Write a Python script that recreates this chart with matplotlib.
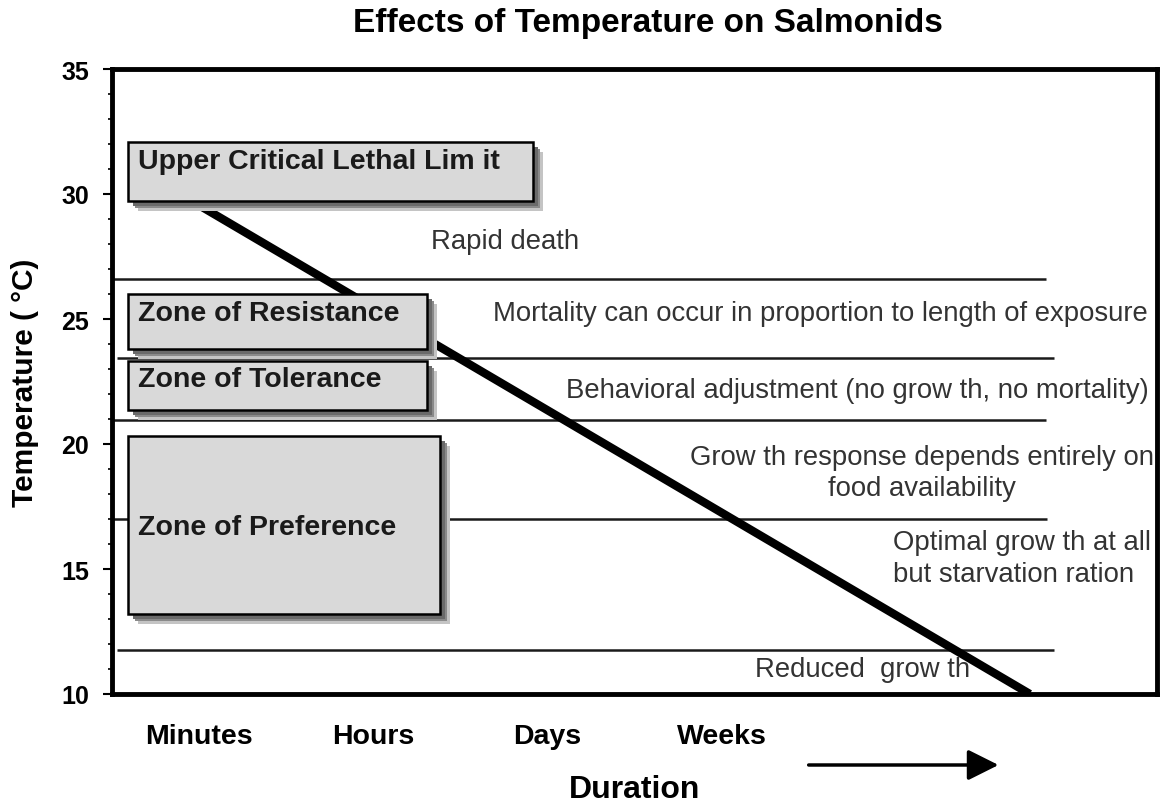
import matplotlib
matplotlib.use("Agg")
import matplotlib.pyplot as plt
from matplotlib.patches import Rectangle
from matplotlib.transforms import ScaledTranslation
from matplotlib.ticker import MultipleLocator

plt.rcParams['font.family'] = ['Liberation Sans', 'DejaVu Sans']

# ---------------- data ----------------
duration_labels = ["Minutes", "Hours", "Days", "Weeks"]
duration_pos = [0.5, 1.5, 2.5, 3.5]

# thermal threshold lines (°C) and their x-extent on the duration scale
threshold_temps = [26.6, 23.45, 20.95, 17.0, 11.75]
threshold_x0 = [0.0, 0.03, 0.0, 0.0, 0.03]
threshold_x1 = [5.36, 5.41, 5.36, 5.37, 5.41]

# lethal-limit line: (duration, temperature) endpoints
lethal_x = [0.50, 5.27]
lethal_y = [29.55, 10.0]

# zone boxes
zone_names = ["Upper Critical Lethal Lim it", "Zone of Resistance",
              "Zone of Tolerance", "Zone of Preference"]
zone_x0 = [0.09, 0.09, 0.09, 0.09]
zone_x1 = [2.42, 1.81, 1.81, 1.885]
zone_ylo = [29.72, 23.80, 21.36, 13.20]
zone_yhi = [32.08, 26.00, 23.32, 20.32]
zone_label_y = [31.32, 25.24, 22.60, 16.68]

# response annotations
resp_text = ["Rapid death",
             "Mortality can occur in proportion to length of exposure",
             "Behavioral adjustment (no grow th, no mortality)",
             "Grow th response depends entirely on\nfood availability",
             "Optimal grow th at all\nbut starvation ration",
             "Reduced  grow th"]
resp_x = [2.256, 2.188, 2.607, 4.651, 4.484, 3.692]
resp_y = [28.12, 25.24, 22.16, 18.86, 15.44, 11.00]
resp_ha = ["center", "left", "left", "center", "left", "left"]

arrow_x = [4.0, 5.09]

# ---------------- figure ----------------
W, H = 1161, 803
fig = plt.figure(figsize=(W / 100, H / 100), dpi=100)
L, R, T, B = 112, 1157, 70, 695
ax = fig.add_axes([L / W, 1 - B / H, (R - L) / W, (B - T) / H])
ax.set_xlim(0, 6)
ax.set_ylim(10, 35)

for s in ax.spines.values():
    s.set_linewidth(3.5)
    s.set_color('black')

# threshold lines
for t, x0, x1 in zip(threshold_temps, threshold_x0, threshold_x1):
    ax.plot([x0, x1], [t, t], color='#1a1a1a', lw=1.8, zorder=1,
            solid_capstyle='butt')

# lethal line
ax.plot(lethal_x, lethal_y, color='black', lw=6, zorder=2,
        solid_capstyle='butt', clip_on=True)

# zone boxes with shadows
for name, x0, x1, ylo, yhi, ly in zip(zone_names, zone_x0, zone_x1,
                                      zone_ylo, zone_yhi, zone_label_y):
    for off, col in [(10, '#c4c4c4'), (7, '#8a8a8a'), (5, '#6a6a6a')]:
        tr = ax.transData + ScaledTranslation(off / 100, -off / 100,
                                              fig.dpi_scale_trans)
        ax.add_patch(Rectangle((x0, ylo), x1 - x0, yhi - ylo, transform=tr,
                               facecolor=col, edgecolor='none', zorder=3))
    ax.add_patch(Rectangle((x0, ylo), x1 - x0, yhi - ylo,
                           facecolor='#d9d9d9', edgecolor='black',
                           lw=1.8, zorder=4))
    ax.text(0.149, ly, name, fontsize=20.5, fontweight='bold',
            color='#1a1a1a', ha='left', va='center', zorder=5)

# annotations
for txt, x, y, ha in zip(resp_text, resp_x, resp_y, resp_ha):
    ax.text(x, y, txt, fontsize=19.8, color='#333333', ha=ha, va='center',
            multialignment=ha, linespacing=1.25, zorder=5, clip_on=False)

# axes ticks
ax.yaxis.set_major_locator(MultipleLocator(5))
ax.yaxis.set_minor_locator(MultipleLocator(1))
ax.tick_params(axis='y', which='major', direction='out', length=6.5,
               width=1.5, labelsize=18, pad=10)
ax.tick_params(axis='y', which='minor', direction='out', length=3,
               width=1.2)
for lab in ax.get_yticklabels():
    lab.set_fontweight('bold')
ax.set_xticks(duration_pos)
ax.set_xticklabels(duration_labels, fontsize=20.5, fontweight='bold')
ax.tick_params(axis='x', length=0, pad=21)

ax.set_ylabel("Temperature ( °C)", fontsize=21.5, fontweight='bold',
              va='center')
ax.yaxis.set_label_coords(-0.083, 0.5)
ax.set_xlabel("Duration", fontsize=23, fontweight='bold')
ax.xaxis.label.set_va('center')
ax.xaxis.set_label_coords(0.5, -0.152)

ax.set_title("Effects of Temperature on Salmonids", fontsize=24,
             fontweight='bold', x=0.513, y=1.074, va='center', pad=0)

# duration arrow
ax.annotate('', xy=(arrow_x[1], -0.1136), xytext=(arrow_x[0], -0.1136),
            xycoords=('data', 'axes fraction'),
            textcoords=('data', 'axes fraction'),
            arrowprops=dict(arrowstyle='-|>', lw=2.5, color='black',
                            mutation_scale=47, shrinkA=0, shrinkB=0),
            annotation_clip=False)

fig.savefig("out.png", dpi=100)
